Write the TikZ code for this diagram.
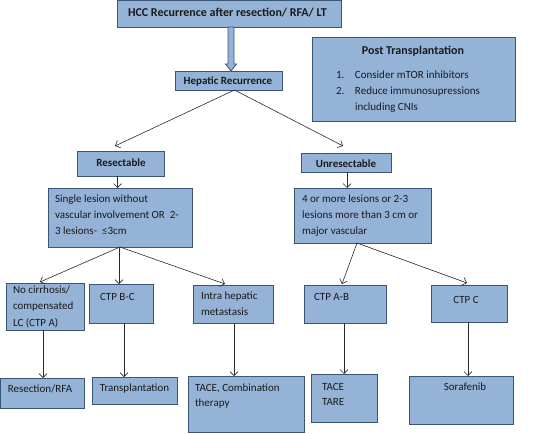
\documentclass[tikz,border=0pt]{standalone}
\usepackage{fontspec}
\setmainfont{Carlito}
\usetikzlibrary{arrows.meta,calc}
\definecolor{boxfill}{HTML}{95B3D7}
\definecolor{boxline}{HTML}{3B5577}
\definecolor{textcol}{HTML}{1A1A1A}
\definecolor{arrcol}{HTML}{2A2A2A}
\newcommand\mkbox[5]{\node[box, minimum width={(#4-#2)*1pt}, minimum height={(#5-#3)*1pt}] (#1) at ({(#2+#4)/2},{(#3+#5)/2}) {};}
\begin{document}
\begin{tikzpicture}[x=1pt,y=-1pt,
 box/.style={draw=boxline, fill=boxfill, line width=0.9pt, inner sep=0pt, outer sep=0pt},
 txt/.style={inner sep=0pt, outer sep=0pt, text=textcol, align=left, font=\fontsize{11}{16}\selectfont},
 btxt/.style={txt, font=\fontsize{11}{16}\selectfont\bfseries},
 bigtxt/.style={txt, font=\fontsize{12}{16}\selectfont\bfseries},
 arr/.style={draw=arrcol, line width=0.6pt, -{Straight Barb[length=4pt,width=8pt]}},
 fat/.style={draw=boxline, fill=boxfill, line width=0.8pt, line join=miter}]
\useasboundingbox (0,0) rectangle (534,433);
% boxes
\mkbox{top}{117}{0.5}{341}{27}
\mkbox{hr}{175}{71}{282}{90}
\mkbox{post}{312}{37}{515}{121}
\mkbox{res}{77}{151}{164}{176}
\mkbox{unres}{301}{153}{391}{172}
\mkbox{single}{48}{188}{192}{247}
\mkbox{four}{294}{188}{431}{243}
\mkbox{nocirr}{6}{283}{84}{330}
\mkbox{ctpbc}{89}{284}{153}{323}
\mkbox{intra}{193}{285}{273}{323}
\mkbox{ctpab}{304}{285}{386}{323}
\mkbox{ctpc}{431}{285}{507}{322}
\mkbox{resrfa}{0.5}{378}{84}{408}
\mkbox{trans}{92}{377}{177}{404}
\mkbox{tace}{188}{376}{304}{432.5}
\mkbox{tare}{311}{374}{377}{422}
\mkbox{sora}{409}{376}{513}{424}
% texts
\node[bigtxt, anchor=base west] (ttop) at (128,17) {HCC Recurrence after resection/ RFA/ LT};
\node[btxt, anchor=base] (thr) at (228,84.5) {Hepatic Recurrence};
\node[bigtxt, anchor=base] (tpost) at (413,55) {Post Transplantation};
\node[txt, anchor=north west] (tlist) at (336,67.3) {\strut\makebox[19pt][l]{1.}Consider mTOR inhibitors\\\makebox[19pt][l]{2.}Reduce immunosupressions\\\hspace*{19pt}including CNIs};
\node[btxt, anchor=base] (tres) at (121,166.5) {Resectable};
\node[btxt, anchor=base] (tunres) at (346,167.5) {Unresectable};
\node[txt, anchor=north west, font=\fontsize{11}{15.7}\selectfont] (tsingle) at (55,192) {\strut Single lesion without\\vascular involvement OR\ \ 2-\\3 lesions-\ \ ≤3cm};
\node[txt, anchor=north west, font=\fontsize{11}{15.7}\selectfont] (tfour) at (302,192) {\strut 4 or more lesions or 2-3\\lesions more than 3 cm or\\major vascular};
\node[txt, anchor=north west, font=\fontsize{11}{16.5}\selectfont] (tnocirr) at (13,281.45) {\strut No cirrhosis/\\compensated\\LC (CTP A)};
\node[txt, anchor=base west] (tctpbc) at (100,300.5) {CTP B-C};
\node[txt, anchor=north west] (tintra) at (201,288.3) {\strut Intra hepatic\\metastasis};
\node[txt, anchor=base west] (tctpab) at (314,300.5) {CTP A-B};
\node[txt, anchor=base] (tctpc) at (466,303.5) {CTP C};
\node[txt, anchor=base] (tresrfa) at (40,392.5) {Resection/RFA};
\node[txt, anchor=base] (ttrans) at (134.5,391.5) {Transplantation};
\node[txt, anchor=north west, font=\fontsize{11}{15}\selectfont] (ttace) at (195,381) {\strut TACE, Combination\\therapy};
\node[txt, anchor=north west, font=\fontsize{11}{14.5}\selectfont] (ttare) at (322,380.35) {\strut TACE\\TARE};
\node[txt, anchor=base] (tsora) at (465,390.5) {Sorafenib};
% fat arrow
\coordinate (da1) at ([xshift=2pt]top.south);
\coordinate (da2) at (da1 |- hr.north);
\draw[fat] ([xshift=-3pt]da1) -- ([xshift=-3pt,yshift=7pt]da2) -- ([xshift=-5.5pt,yshift=7pt]da2) -- (da2) -- ([xshift=5.5pt,yshift=7pt]da2) -- ([xshift=3pt,yshift=7pt]da2) -- ([xshift=3pt]da1) -- cycle;
% connectors
\draw[arr] ([xshift=6pt]hr.south) -- ([xshift=-5.5pt,yshift=5pt]res.north);
\draw[arr] ([xshift=6pt]hr.south) -- ([xshift=-3pt,yshift=7pt]unres.north);
\coordinate (a1) at ([xshift=-3pt]res.south);
\draw[arr] (a1) -- (a1 |- single.north);
\coordinate (a2) at ([xshift=1pt]unres.south);
\draw[arr] (a2) -- (a2 |- four.north);
\draw[arr] (single.south) -- ([xshift=-5pt,yshift=1pt]nocirr.north);
\coordinate (b1) at ([xshift=-1pt]single.south);
\draw[arr] (b1) -- (b1 |- ctpbc.north);
\draw[arr] (single.south) -- ([xshift=-8pt,yshift=1pt]intra.north);
\draw[arr] ([xshift=-5.5pt]four.south) -- ([xshift=-3pt,yshift=1pt]ctpab.north);
\draw[arr] ([xshift=-5.5pt]four.south) -- ([xshift=-2pt,yshift=2pt]ctpc.north);
\coordinate (c1) at ([xshift=-2pt]nocirr.south);
\draw[arr] (c1) -- (c1 |- resrfa.north);
\coordinate (c2) at ([xshift=3pt]ctpbc.south);
\draw[arr] (c2) -- (c2 |- trans.north);
\coordinate (c3) at ([xshift=1pt]intra.south);
\draw[arr] (c3) -- (c3 |- tace.north);
\coordinate (c4) at ([xshift=-1pt]ctpab.south);
\draw[arr] (c4) -- (c4 |- tare.north);
\coordinate (c5) at ([xshift=-1pt]ctpc.south);
\draw[arr] (c5) -- (c5 |- sora.north);
\end{tikzpicture}
\end{document}
